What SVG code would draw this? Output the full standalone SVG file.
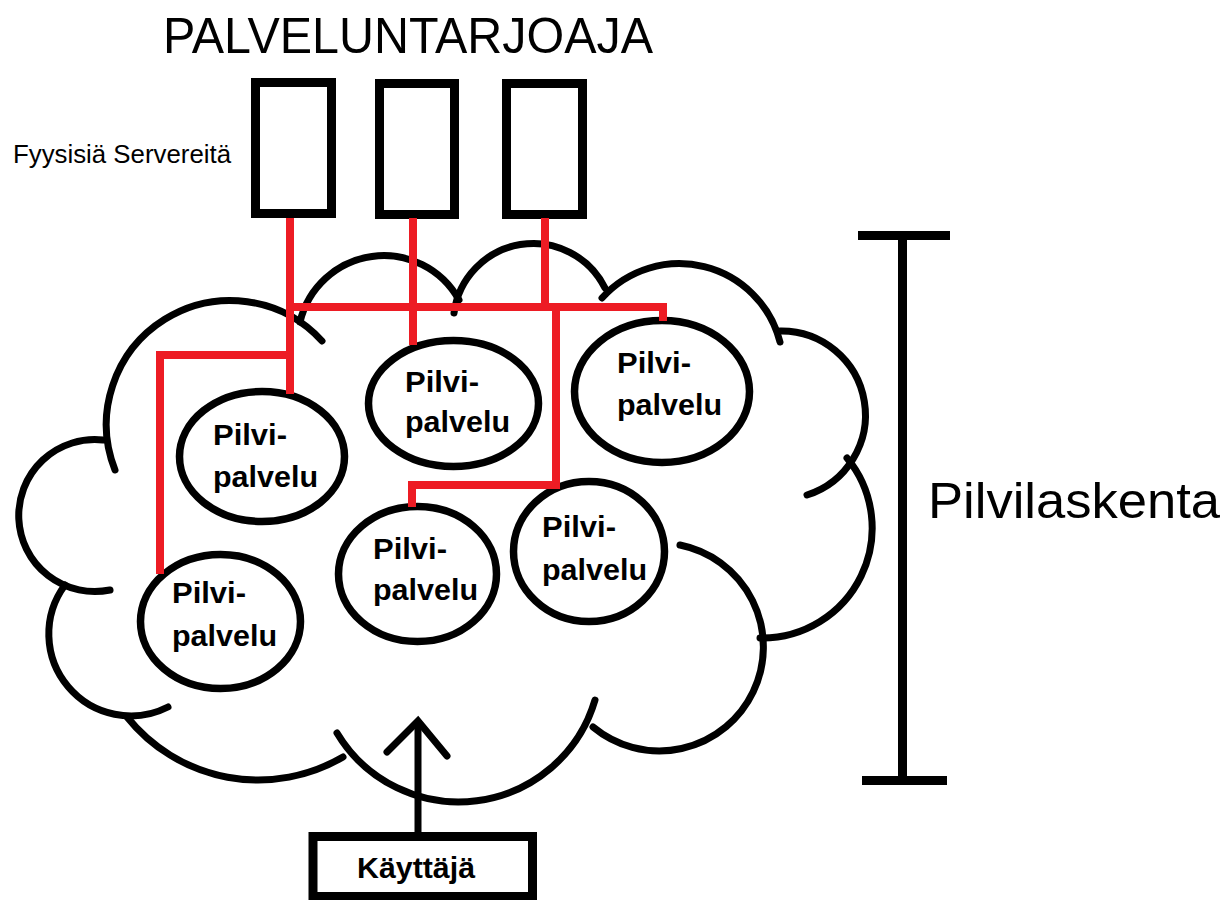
<svg xmlns="http://www.w3.org/2000/svg" width="1223" height="900" viewBox="0 0 1223 900">
  <style>
    .bg { fill: #ffffff; }
    .cloud { fill: none; stroke: #000; stroke-width: 7; stroke-linecap: round; }
    .srv { fill: #fff; stroke: #000; stroke-width: 9; }
    .svc { fill: #fff; stroke: #000; stroke-width: 7.5; }
    .red { fill: none; stroke: #ED1C24; stroke-width: 8; stroke-linejoin: miter; }
    .blk { fill: none; stroke: #000; stroke-width: 7; }
    .bar { fill: none; stroke: #000; stroke-width: 9; }
    .lbl { font-family: "Liberation Sans", Arial, sans-serif; font-weight: bold; font-size: 30px; fill: #000; }
    .big { font-family: "Liberation Sans", Arial, sans-serif; font-size: 50px; fill: #000; }
    .small { font-family: "Liberation Sans", Arial, sans-serif; font-size: 25px; fill: #000; }
  </style>
  <rect class="bg" x="0" y="0" width="1223" height="900"/>

  <g id="cloud">
    <path class="cloud" d="M115 470 A124 124 0 0 1 322 341"/>
    <path class="cloud" d="M300 322 A86 86 0 0 1 459 300"/>
    <path class="cloud" d="M454 313 A80 80 0 0 1 605 288"/>
    <path class="cloud" d="M602 298 A104 104 0 0 1 780 342"/>
    <path class="cloud" d="M780 331 A84 84 0 0 1 807 495"/>
    <path class="cloud" d="M760 638 A110 110 0 0 0 847 458"/>
    <path class="cloud" d="M593 727 A104 104 0 1 0 680 545"/>
    <path class="cloud" d="M337 733 A142 142 0 0 0 595 700"/>
    <path class="cloud" d="M127 717 A168 168 0 0 0 343 757"/>
    <path class="cloud" d="M65 585 A82 82 0 0 0 168 707"/>
    <path class="cloud" d="M103 440 A76 76 0 1 0 110 590"/>
  </g>

  <g id="title">
    <text class="big" x="163" y="53" textLength="490" lengthAdjust="spacingAndGlyphs">PALVELUNTARJOAJA</text>
  </g>
  <g id="servers-label">
    <text class="small" x="13" y="163" textLength="218" lengthAdjust="spacingAndGlyphs">Fyysisiä Servereitä</text>
  </g>

  <g id="server1"><rect class="srv" x="255.5" y="82.5" width="76" height="131"/></g>
  <g id="server2"><rect class="srv" x="379.5" y="83.5" width="75" height="131"/></g>
  <g id="server3"><rect class="srv" x="506.5" y="83.5" width="76" height="131"/></g>

  <g id="service1">
    <ellipse class="svc" cx="262" cy="456.5" rx="82.5" ry="65"/>
    <text class="lbl" x="213" y="445" textLength="74" lengthAdjust="spacingAndGlyphs">Pilvi-</text>
    <text class="lbl" x="213" y="487" textLength="105" lengthAdjust="spacingAndGlyphs">palvelu</text>
  </g>
  <g id="service2">
    <ellipse class="svc" cx="453.5" cy="403.5" rx="85" ry="63"/>
    <text class="lbl" x="405" y="392" textLength="74" lengthAdjust="spacingAndGlyphs">Pilvi-</text>
    <text class="lbl" x="405" y="432" textLength="105" lengthAdjust="spacingAndGlyphs">palvelu</text>
  </g>
  <g id="service3">
    <ellipse class="svc" cx="662" cy="391.5" rx="87.5" ry="71"/>
    <text class="lbl" x="617" y="373" textLength="74" lengthAdjust="spacingAndGlyphs">Pilvi-</text>
    <text class="lbl" x="617" y="415" textLength="105" lengthAdjust="spacingAndGlyphs">palvelu</text>
  </g>
  <g id="service4">
    <ellipse class="svc" cx="220.5" cy="621.5" rx="80" ry="67"/>
    <text class="lbl" x="172" y="603" textLength="74" lengthAdjust="spacingAndGlyphs">Pilvi-</text>
    <text class="lbl" x="172" y="646" textLength="105" lengthAdjust="spacingAndGlyphs">palvelu</text>
  </g>
  <g id="service5">
    <ellipse class="svc" cx="417.5" cy="574" rx="79" ry="67.5"/>
    <text class="lbl" x="373" y="559" textLength="74" lengthAdjust="spacingAndGlyphs">Pilvi-</text>
    <text class="lbl" x="373" y="600" textLength="105" lengthAdjust="spacingAndGlyphs">palvelu</text>
  </g>
  <g id="service6">
    <ellipse class="svc" cx="589" cy="551.5" rx="75.5" ry="70"/>
    <text class="lbl" x="542" y="537" textLength="74" lengthAdjust="spacingAndGlyphs">Pilvi-</text>
    <text class="lbl" x="542" y="580" textLength="105" lengthAdjust="spacingAndGlyphs">palvelu</text>
  </g>

  <g id="user">
    <rect class="bar" x="313" y="836.5" width="219.5" height="60"/>
    <text class="lbl" x="357" y="878" textLength="118" lengthAdjust="spacingAndGlyphs">Käyttäjä</text>
  </g>

  <g id="scope">
    <line class="bar" x1="858" y1="235.5" x2="950" y2="235.5"/>
    <line class="bar" x1="902.5" y1="235" x2="902.5" y2="780"/>
    <line class="bar" x1="862" y1="780.5" x2="947" y2="780.5"/>
    <text class="big" x="928" y="518" textLength="292" lengthAdjust="spacingAndGlyphs">Pilvilaskenta</text>
  </g>

  <g id="connectors">
    <polyline class="red" points="290,218 290,394"/>
    <polyline class="red" points="294,355 160,355 160,574"/>
    <polyline class="red" points="286,307 663,307 663,321"/>
    <polyline class="red" points="413,218 413,345"/>
    <polyline class="red" points="545,218 545,307"/>
    <polyline class="red" points="556,303 556,485 412,485 412,507"/>
    <line class="blk" x1="418" y1="832" x2="418" y2="722"/>
    <polyline class="blk" points="387,752 418,721 447,756" stroke-linecap="round"/>
  </g>
</svg>
